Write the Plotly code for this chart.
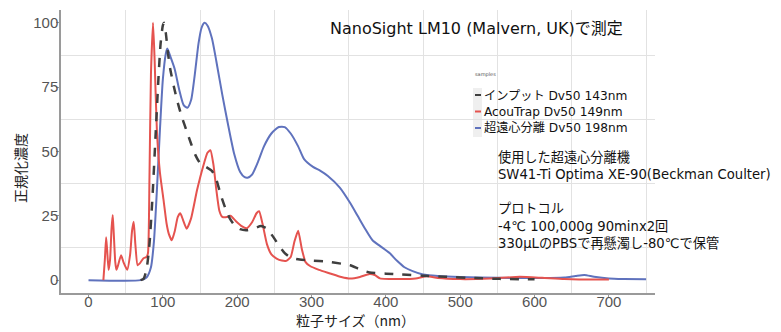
import plotly.graph_objects as go

# ---- data ----
input_x = [70, 74, 78, 82, 86, 90, 94, 97, 100, 101.5, 104, 107, 110, 115, 120, 126, 132, 138, 144, 150,
           158, 166, 172, 178, 184, 190, 196, 204, 213, 222, 232, 240, 248, 256, 264, 272, 284, 300, 320,
           340, 352, 365, 378, 400, 420, 450, 480, 520, 553, 600]
input_y = [0, 0.5, 4, 14, 32, 55, 78, 92, 99, 100, 96, 88, 82, 75, 69, 63, 58, 53, 48.5, 45.5,
           44, 42.5, 39, 33, 28, 24, 21.5, 19.8, 19.4, 20, 21, 20, 17, 13.5, 10.5, 8.8, 8, 7.6, 7.2,
           6.4, 5.8, 4.2, 3, 2.5, 2.2, 1.7, 1.3, 0.8, 0.5, 0.3]

acou_x = [20, 22, 23.7, 25, 27, 29, 31, 32.6, 34, 36, 37.6, 40, 43.8, 47, 52, 56, 58.5, 60.8, 63, 66,
          69, 74, 78, 80, 82, 84, 86.8, 89, 92, 96, 101, 105, 108, 112, 116, 120, 123.5, 127, 132, 138,
          146, 154, 160, 164, 168, 172, 176, 180, 186, 191, 198, 206, 213, 220, 226, 229.5, 234, 240,
          246, 253, 260, 266, 272, 277, 282, 287, 292, 298, 310, 325, 340, 352, 365, 378, 385, 392,
          420, 440, 455, 470, 500, 540, 580, 610, 640, 680, 700]
acou_y = [0, 8, 16.7, 12, 4, 8, 20, 25.3, 18, 7, 4, 6, 9.7, 7, 4, 10, 19, 22.7, 14, 5.8,
          6.5, 8.5, 9, 10.5, 40, 80, 100, 85, 58, 42, 31, 22, 18, 15.5, 19, 24.5, 26, 23.5, 20, 24,
          35, 44, 49.5, 50.5, 45, 35, 27, 24.6, 24.5, 25, 23, 21, 20.2, 22.5, 26, 26.8, 22, 14,
          10, 8.4, 7.6, 7.5, 9, 15, 19.2, 12, 7, 5.5, 4, 2.6, 1.2, 0.6, 1.2, 2.4, 2, 0.7,
          0.4, 0.6, 1.5, 0.8, 0.4, 0.6, 1.3, 0.9, 0.4, 0.2, 0.2]

ultra_x = [0, 70, 78, 84, 88, 92, 96, 100, 104, 106, 110, 116, 122, 128, 133, 138, 143, 148, 152, 156,
           160, 166, 172, 180, 188, 196, 204, 210, 214, 220, 228, 236, 246, 256, 264, 272, 282, 290,
           302, 312, 322, 338, 352, 362, 372, 382, 392, 405, 415, 425, 436, 450, 470, 500, 550, 600,
           640, 655, 667, 680, 700, 720, 750]
ultra_y = [0, 0, 1, 5, 15, 35, 58, 78, 88, 90, 87, 82, 74, 68, 67, 70, 80, 92, 98, 100,
           99, 94, 85, 72, 60, 49, 42, 40, 39.8, 41, 46, 52, 57, 59.5, 59.5, 57, 52, 47,
           44, 42.5, 40.5, 36, 30, 25, 20, 15.5, 13.3, 10.5, 7.5, 5, 3.5, 2.2, 1.6, 1.2, 0.9, 0.8,
           1, 1.6, 2, 1.3, 0.6, 0.4, 0.3]

x_ticks = [0, 100, 200, 300, 400, 500, 600, 700]
y_ticks = [0, 25, 50, 75, 100]
x_grid = [50, 150, 250, 350, 450, 550, 650, 750]
y_grid = [12.5, 37.5, 62.5, 87.5]

legend_labels = ["インプット Dv50 143nm", "AcouTrap Dv50 149nm", "超遠心分離 Dv50 198nm"]
info_lines = ["使用した超遠心分離機", "SW41-Ti Optima XE-90(Beckman Coulter)", "",
              "プロトコル", "-4℃ 100,000g 90minx2回", "330μLのPBSで再懸濁し-80℃で保管"]

C_INPUT = "#3f3f3f"
C_ACOU = "#e5534f"
C_ULTRA = "#5f72bd"
FONT = "DejaVu Sans, Noto Sans CJK JP"
CJK = "Noto Sans CJK JP"
TICKFONT = "Liberation Sans, Arial"

# page coordinates (window pixels) -> paper coordinates; plot area spans x 61..655, y 10..293
def px(wx):
    return (wx - 61) / 594.0

def py(wy):
    return (293 - wy) / 283.0

fig = go.Figure()
fig.add_trace(go.Scatter(x=ultra_x, y=ultra_y, mode="lines", name=legend_labels[2],
                         line=dict(color=C_ULTRA, width=2, shape="spline", smoothing=0.6)))
fig.add_trace(go.Scatter(x=acou_x, y=acou_y, mode="lines", name=legend_labels[1],
                         line=dict(color=C_ACOU, width=2, shape="spline", smoothing=0.5)))
fig.add_trace(go.Scatter(x=input_x, y=input_y, mode="lines", name=legend_labels[0],
                         line=dict(color=C_INPUT, width=2.5, dash="dash", shape="spline", smoothing=0.6)))

# the page body adds an 8px offset; margins compensate for it
fig.update_layout(
    width=781, height=332,
    margin=dict(l=53, r=134, t=2, b=47),
    paper_bgcolor="white", plot_bgcolor="white",
    showlegend=False,
    font=dict(family=FONT, color="#222222"),
    xaxis=dict(range=[-37, 762], tickvals=x_ticks, showgrid=False, zeroline=False,
               showline=True, linecolor="#9a9a9a", linewidth=1.5,
               ticks="outside", ticklen=3, tickcolor="#9a9a9a", ticklabelstandoff=-9,
               tickfont=dict(size=15, color="#555555", family=TICKFONT),
               minor=dict(tickvals=x_grid, showgrid=True, gridcolor="#e2e2e2", gridwidth=1, ticks="")),
    yaxis=dict(range=[-5, 105], tickvals=y_ticks, showgrid=False, zeroline=False,
               showline=True, linecolor="#9a9a9a", linewidth=1.5,
               ticks="outside", ticklen=3, tickcolor="#9a9a9a", ticklabelstandoff=-5,
               tickfont=dict(size=15, color="#555555", family=TICKFONT),
               minor=dict(tickvals=y_grid, showgrid=True, gridcolor="#e2e2e2", gridwidth=1, ticks="")),
)

annotations = []
# axis titles
annotations.append(dict(text="粒子サイズ（nm）", xref="paper", yref="paper", x=px(355), y=py(320),
                        xanchor="center", yanchor="middle", showarrow=False,
                        font=dict(size=14, color="#222222", family=CJK)))
annotations.append(dict(text="正規化濃度", xref="paper", yref="paper", x=px(20), y=py(168),
                        xanchor="center", yanchor="middle", textangle=-90, showarrow=False,
                        font=dict(size=14, color="#222222", family=CJK)))
# header text
annotations.append(dict(text="NanoSight LM10 (Malvern, UK)で測定", xref="paper", yref="paper",
                        x=px(328), y=py(28), xanchor="left", yanchor="middle", showarrow=False,
                        font=dict(size=16, color="#111111", family=FONT)))
# custom legend
annotations.append(dict(text="samples", xref="paper", yref="paper", x=px(473), y=py(74),
                        xanchor="left", yanchor="middle", showarrow=False,
                        font=dict(size=5, color="#555555", family=FONT)))
annotations.append(dict(text="<br>".join(legend_labels), xref="paper", yref="paper",
                        x=px(482), y=py(111.5), xanchor="left", yanchor="middle", align="left",
                        showarrow=False, font=dict(size=12.2, color="#111111", family=FONT)))
# info block
annotations.append(dict(text="<br>".join(l if l else " " for l in info_lines), xref="paper", yref="paper",
                        x=px(496), y=py(200), xanchor="left", yanchor="middle", align="left",
                        showarrow=False, font=dict(size=13.2, color="#111111", family=FONT)))
fig.update_layout(annotations=annotations)

# white panels behind legend and info text
fig.add_shape(type="rect", xref="paper", yref="paper",
              x0=px(473), x1=px(650), y0=py(138), y1=py(80),
              fillcolor="white", line=dict(width=0), layer="between")
fig.add_shape(type="rect", xref="paper", yref="paper",
              x0=px(473), x1=px(482), y0=py(137), y1=py(88),
              fillcolor="#efefef", line=dict(width=0), layer="between")
fig.add_shape(type="rect", xref="paper", yref="paper",
              x0=px(490), x1=1.0, y0=py(253), y1=py(146),
              fillcolor="white", line=dict(width=0), layer="between")
# legend keys
for col, wy in zip([C_INPUT, C_ACOU, C_ULTRA], [95, 111.5, 128]):
    fig.add_shape(type="line", xref="paper", yref="paper",
                  x0=px(475), x1=px(481), y0=py(wy), y1=py(wy),
                  line=dict(color=col, width=2), layer="above")

fig.write_html("out.html")
